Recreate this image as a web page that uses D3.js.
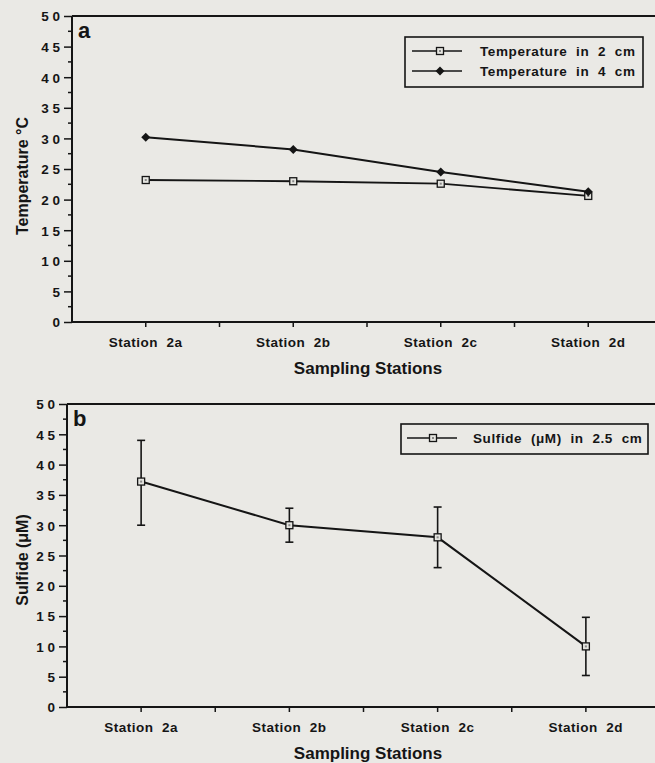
<!DOCTYPE html>
<meta charset="utf-8">
<style>
    body { margin: 0; background: #eae9e5; }
    svg { display: block; font-family: "Liberation Sans", Arial, sans-serif; font-weight: bold; }
    svg text { font-family: "Liberation Sans", Arial, sans-serif; font-weight: bold; }
</style>
<svg width="655" height="763"></svg>

<script src="https://d3js.org/d3.v7.min.js"></script>
<script>
    var stations = ["Station  2a", "Station  2b", "Station  2c", "Station  2d"];
    var temp2cm = [23.2, 23.0, 22.6, 20.6];
    var temp4cm = [30.2, 28.2, 24.5, 21.3];
    var sulfide = [37.2, 30.0, 28.0, 10.0];
    var sulfideHigh = [44.0, 32.8, 33.0, 14.8];
    var sulfideLow = [30.0, 27.2, 23.0, 5.2];
    var yTicks = [0, 5, 10, 15, 20, 25, 30, 35, 40, 45, 50];

    (function () {
        var svg = d3.select("svg"),
            ink = "#151515";

        function panel(opt) {
            var g = svg.append("g"),
                x = d3.scaleLinear().domain([0.5, 4.5]).range([opt.left, opt.right]),
                y = d3.scaleLinear().domain([0, 50]).range([opt.bottom, opt.top]);

            // y axis with minor ticks
            var yAxis = d3.axisLeft(y).tickValues(yTicks).tickSize(8).tickPadding(4)
                .tickFormat(function (d) { return String(d).split("").join(" "); });
            var ya = g.append("g").attr("transform", "translate(" + opt.left + ",0)").call(yAxis);
            ya.attr("font-family", null).attr("font-size", null);
            ya.select(".domain").remove();
            ya.selectAll("text").style("font-size", "13.5px").attr("fill", ink)
                .attr("dy", "0.36em").style("white-space", "pre");
            ya.selectAll("line").attr("stroke", ink).attr("stroke-width", 1.5);
            var minor = d3.range(2.5, 50, 5);
            g.selectAll(".minor").data(minor).enter().append("line")
                .attr("x1", opt.left - 4).attr("x2", opt.left)
                .attr("y1", y).attr("y2", y)
                .attr("stroke", ink).attr("stroke-width", 1.5);

            // frame: left, top, bottom lines
            g.append("line").attr("x1", opt.left).attr("x2", opt.left)
                .attr("y1", opt.top).attr("y2", opt.bottom).attr("stroke", ink).attr("stroke-width", 2);
            g.append("line").attr("x1", opt.left).attr("x2", 655)
                .attr("y1", opt.top).attr("y2", opt.top).attr("stroke", ink).attr("stroke-width", 2);
            g.append("line").attr("x1", opt.left).attr("x2", 655)
                .attr("y1", opt.bottom).attr("y2", opt.bottom).attr("stroke", ink).attr("stroke-width", 2);

            // x ticks
            var xt = d3.range(1, 4.6, 0.5);
            g.selectAll(".xt").data(xt).enter().append("line")
                .attr("x1", x).attr("x2", x)
                .attr("y1", opt.bottom).attr("y2", opt.bottom + 5)
                .attr("stroke", ink).attr("stroke-width", 1.5);
            g.selectAll(".xl").data(stations).enter().append("text")
                .attr("x", function (d, i) { return x(i + 1); })
                .attr("y", opt.bottom + 25)
                .attr("text-anchor", "middle").style("font-size", "13.5px").style("letter-spacing", "0.5px")
                .attr("fill", ink).style("white-space", "pre")
                .text(function (d) { return d; });

            g.append("text").attr("x", 368).attr("y", opt.bottom + 52)
                .attr("text-anchor", "middle").style("font-size", "17px").attr("fill", ink)
                .text("Sampling Stations");

            g.append("text")
                .attr("transform", "translate(28," + opt.labelY + ") rotate(-90)")
                .attr("text-anchor", "middle").style("font-size", "16px").attr("fill", ink)
                .text(opt.yLabel);

            g.append("text").attr("x", opt.left + 6).attr("y", opt.top + 22)
                .style("font-size", "22px").attr("fill", ink).text(opt.letter);

            return { g: g, x: x, y: y };
        }

        function squareMarker(g, px, py) {
            g.append("rect").attr("x", px - 3.5).attr("y", py - 3.5).attr("width", 7).attr("height", 7)
                .attr("fill", "#e4e4df").attr("stroke", ink).attr("stroke-width", 1.3);
            g.append("rect").attr("x", px - 1).attr("y", py - 1).attr("width", 2).attr("height", 2)
                .attr("fill", "#888");
        }

        function diamondMarker(g, px, py) {
            g.append("path").attr("d", "M" + px + "," + (py - 4.5) + "L" + (px + 4.5) + "," + py +
                "L" + px + "," + (py + 4.5) + "L" + (px - 4.5) + "," + py + "Z")
                .attr("fill", ink);
        }

        // panel a
        var a = panel({ left: 72, right: 662, top: 16, bottom: 322, labelY: 176,
            yLabel: "Temperature °C", letter: "a" });
        var lineA = d3.line().x(function (d, i) { return a.x(i + 1); }).y(function (d) { return a.y(d); });
        a.g.append("path").datum(temp4cm).attr("d", lineA).attr("fill", "none")
            .attr("stroke", ink).attr("stroke-width", 2);
        a.g.append("path").datum(temp2cm).attr("d", lineA).attr("fill", "none")
            .attr("stroke", ink).attr("stroke-width", 1.8);
        temp2cm.forEach(function (d, i) { squareMarker(a.g, a.x(i + 1), a.y(d)); });
        temp4cm.forEach(function (d, i) { diamondMarker(a.g, a.x(i + 1), a.y(d)); });

        var la = a.g.append("g");
        la.append("rect").attr("x", 405).attr("y", 37).attr("width", 238).attr("height", 50)
            .attr("fill", "none").attr("stroke", ink).attr("stroke-width", 1.6);
        [["Temperature  in  2  cm", squareMarker, 51], ["Temperature  in  4  cm", diamondMarker, 71]]
            .forEach(function (r) {
                la.append("line").attr("x1", 412).attr("x2", 462).attr("y1", r[2]).attr("y2", r[2])
                    .attr("stroke", ink).attr("stroke-width", 1.6);
                r[1](la, 440, r[2]);
                la.append("text").attr("x", 480).attr("y", r[2] + 5).style("font-size", "13.5px")
                    .style("letter-spacing", "0.6px")
                    .attr("fill", ink).style("white-space", "pre").text(r[0]);
            });

        // panel b
        var b = panel({ left: 67, right: 660, top: 404, bottom: 707, labelY: 560,
            yLabel: "Sulfide (\u03bcM)", letter: "b" });
        var lineB = d3.line().x(function (d, i) { return b.x(i + 1); }).y(function (d) { return b.y(d); });
        b.g.append("path").datum(sulfide).attr("d", lineB).attr("fill", "none")
            .attr("stroke", ink).attr("stroke-width", 2);
        sulfide.forEach(function (d, i) {
            var px = b.x(i + 1);
            b.g.append("line").attr("x1", px).attr("x2", px)
                .attr("y1", b.y(sulfideHigh[i])).attr("y2", b.y(sulfideLow[i]))
                .attr("stroke", ink).attr("stroke-width", 1.6);
            [sulfideHigh[i], sulfideLow[i]].forEach(function (v) {
                b.g.append("line").attr("x1", px - 4).attr("x2", px + 4)
                    .attr("y1", b.y(v)).attr("y2", b.y(v))
                    .attr("stroke", ink).attr("stroke-width", 1.6);
            });
            squareMarker(b.g, px, b.y(d));
        });

        var lb = b.g.append("g");
        lb.append("rect").attr("x", 401).attr("y", 424).attr("width", 247).attr("height", 30)
            .attr("fill", "none").attr("stroke", ink).attr("stroke-width", 1.6);
        lb.append("line").attr("x1", 407).attr("x2", 457).attr("y1", 438).attr("y2", 438)
            .attr("stroke", ink).attr("stroke-width", 1.6);
        squareMarker(lb, 433, 438);
        lb.append("text").attr("x", 473).attr("y", 443).style("font-size", "13.5px")
            .style("letter-spacing", "0.6px")
            .attr("fill", ink).style("white-space", "pre").text("Sulfide  (\u03bcM)  in  2.5  cm");
    })();
</script>
